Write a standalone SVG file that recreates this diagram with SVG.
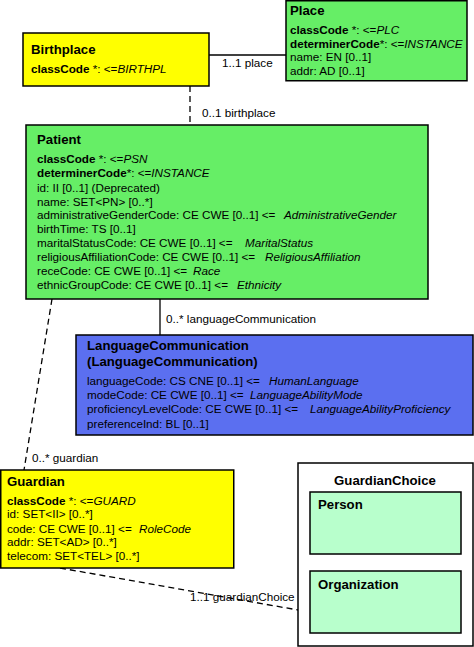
<svg xmlns="http://www.w3.org/2000/svg" width="474" height="647" viewBox="0 0 474 647">
<style>
text{font-family:"Liberation Sans",Arial,sans-serif;font-size:11.7px;fill:#000}
.t{font-weight:bold;font-size:13.2px}
.b{font-weight:bold}
.i{font-style:italic}
.box{stroke:#000;stroke-width:1.5}
.y{fill:#ffff00}
.g{fill:#66ee66}
.bl{fill:#5b6ff0}
.lg{fill:#b8ffcc}
.w{fill:#fff}
.c{fill:none;stroke:#000;stroke-width:1.3}
.d{stroke-dasharray:6,4}
</style>
<rect width="474" height="647" fill="#fff"/>
<g id="connectors">
<line class="c" x1="209" y1="55" x2="286" y2="55"/>
<text x="222" y="67">1..1 place</text>
<line class="c d" x1="190" y1="86" x2="190" y2="125"/>
<text x="202" y="117">0..1 birthplace</text>
<line class="c" x1="160" y1="299" x2="160" y2="335"/>
<text x="166" y="323">0..* languageCommunication</text>
<line class="c d" x1="52" y1="299" x2="24" y2="470"/>
<text x="32" y="462">0..* guardian</text>
<line class="c d" x1="60" y1="568" x2="298" y2="610"/>
<text x="190" y="601">1..1 guardianChoice</text>
</g>
<g id="birthplace">
<rect class="box y" x="23" y="33" width="186" height="53"/>
<text class="t" x="31" y="54">Birthplace</text>
<text x="31" y="73"><tspan class="b">classCode</tspan> *: &lt;=<tspan class="i">BIRTHPL</tspan></text>
</g>
<g id="place">
<rect class="box g" x="286" y="0.75" width="181" height="80"/>
<text class="t" x="290" y="15">Place</text>
<text x="290" y="34"><tspan class="b">classCode</tspan> *: &lt;=<tspan class="i">PLC</tspan></text>
<text x="290" y="48"><tspan class="b">determinerCode</tspan>*: &lt;=<tspan class="i">INSTANCE</tspan></text>
<text x="290" y="61">name: EN [0..1]</text>
<text x="290" y="75">addr: AD [0..1]</text>
</g>
<g id="patient">
<rect class="box g" x="26" y="125" width="402" height="174"/>
<text class="t" x="37" y="144">Patient</text>
<text x="37" y="163"><tspan class="b">classCode</tspan> *: &lt;=<tspan class="i">PSN</tspan></text>
<text x="37" y="177"><tspan class="b">determinerCode</tspan>*: &lt;=<tspan class="i">INSTANCE</tspan></text>
<text x="37" y="192">id: II [0..1] (Deprecated)</text>
<text x="37" y="206">name: SET&lt;PN&gt; [0..*]</text>
<text x="37" y="219">administrativeGenderCode: CE CWE [0..1] &lt;=</text>
<text class="i" x="284" y="219">AdministrativeGender</text>
<text x="37" y="233">birthTime: TS [0..1]</text>
<text x="37" y="247">maritalStatusCode: CE CWE [0..1] &lt;=</text>
<text class="i" x="245" y="247">MaritalStatus</text>
<text x="37" y="261">religiousAffiliationCode: CE CWE [0..1] &lt;=</text>
<text class="i" x="265" y="261">ReligiousAffiliation</text>
<text x="37" y="275">receCode: CE CWE [0..1] &lt;=</text>
<text class="i" x="193" y="275">Race</text>
<text x="37" y="289">ethnicGroupCode: CE CWE [0..1] &lt;=</text>
<text class="i" x="237" y="289">Ethnicity</text>
</g>
<g id="languageCommunication">
<rect class="box bl" x="76" y="335" width="397" height="100"/>
<text class="t" x="87" y="350">LanguageCommunication</text>
<text class="t" x="87" y="366">(LanguageCommunication)</text>
<text x="87" y="385">languageCode: CS CNE [0..1] &lt;=</text>
<text class="i" x="269" y="385">HumanLanguage</text>
<text x="87" y="399">modeCode: CE CWE [0..1] &lt;=</text>
<text class="i" x="250" y="399">LanguageAbilityMode</text>
<text x="87" y="413">proficiencyLevelCode: CE CWE [0..1] &lt;=</text>
<text class="i" x="310" y="413">LanguageAbilityProficiency</text>
<text x="87" y="428">preferenceInd: BL [0..1]</text>
</g>
<g id="guardian">
<rect class="box y" x="0.75" y="470" width="233" height="98"/>
<text class="t" x="7" y="486">Guardian</text>
<text x="7" y="505"><tspan class="b">classCode</tspan> *: &lt;=<tspan class="i">GUARD</tspan></text>
<text x="7" y="518">id: SET&lt;II&gt; [0..*]</text>
<text x="7" y="533">code: CE CWE [0..1] &lt;=</text>
<text class="i" x="139" y="533">RoleCode</text>
<text x="7" y="546">addr: SET&lt;AD&gt; [0..*]</text>
<text x="7" y="560">telecom: SET&lt;TEL&gt; [0..*]</text>
</g>
<g id="guardianChoice">
<rect class="box w" x="298" y="463" width="175" height="183"/>
<text class="t" x="385" y="485" text-anchor="middle">GuardianChoice</text>
<g id="person">
<rect class="box lg" x="310" y="492" width="151" height="62"/>
<text class="t" x="318" y="509">Person</text>
</g>
<g id="organization">
<rect class="box lg" x="310" y="571" width="151" height="62"/>
<text class="t" x="318" y="589">Organization</text>
</g>
</g>
</svg>
